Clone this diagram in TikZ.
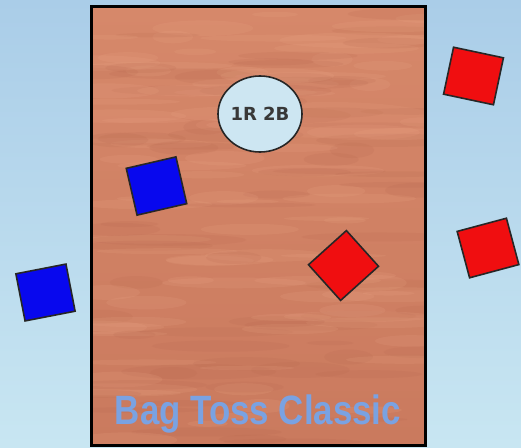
\documentclass[tikz,border=0pt]{standalone}
\usepackage{fontspec}
\setmainfont{Liberation Sans}
\newfontfamily\dejavu{DejaVu Sans}
\newfontfamily\titlefam{Liberation Sans Bold}
\usetikzlibrary{shadings,shapes.geometric}
\definecolor{bgtop}{RGB}{170,205,232}
\definecolor{bgbot}{RGB}{200,230,242}
\definecolor{wood}{RGB}{202,122,94}
\definecolor{woodlight}{RGB}{214,136,106}
\definecolor{wooddark}{RGB}{180,100,76}
\definecolor{woodhi}{RGB}{236,168,136}
\definecolor{bagred}{RGB}{240,14,16}
\definecolor{bagblue}{RGB}{8,8,238}
\definecolor{holefill}{RGB}{205,230,242}
\definecolor{titleblue}{RGB}{122,162,226}
\tikzset{
  bag/.style={draw=black!85, line width=1.6pt, minimum width=51pt, minimum height=48pt, inner sep=0pt},
  redbag/.style={bag, fill=bagred},
  bluebag/.style={bag, fill=bagblue},
  titlefont/.style={font=\titlefam\fontsize{41}{41}\selectfont, xscale=0.85},
}
\begin{document}
\begin{tikzpicture}[x=1pt,y=-1pt]
\useasboundingbox (0,0) rectangle (521,447);
% background
\shade[top color=bgtop, bottom color=bgbot] (0,0) rectangle (521,447);
% board
\shade[top color=woodlight, bottom color=wood] (91,6) rectangle (425,445);
\begin{scope}
\clip (91,6) rectangle (425,445);
\pgfmathsetseed{7}
\foreach \i in {1,...,160}{
  \pgfmathsetmacro\px{91+334*rnd}
  \pgfmathsetmacro\py{6+439*rnd}
  \pgfmathsetmacro\pl{20+60*rnd}
  \pgfmathsetmacro\pw{2+6*rnd}
  \pgfmathsetmacro\pc{rnd}
  \ifdim\pc pt<0.5pt
    \fill[woodhi, opacity=0.16] (\px,\py) ellipse (\pl pt and \pw pt);
  \else
    \fill[wooddark, opacity=0.14] (\px,\py) ellipse (\pl pt and \pw pt);
  \fi
}
\fill[woodhi, opacity=0.12] (330,120) ellipse (110 and 18);
\end{scope}
\node[draw=black, line width=3pt, minimum width=334pt, minimum height=439pt, inner sep=0pt] (board) at (258,225.5) {};
% hole
\node[ellipse, draw=black!85, fill=holefill, line width=1.6pt, minimum width=84pt, minimum height=76pt, inner sep=0pt, font=\dejavu\bfseries\fontsize{18}{18}\selectfont, text=black!78] (hole) at (260,114) {1R 2B};
% bags
\node[bluebag, rotate=11] (b1) at (45.5,292.5) {};
\node[bluebag, rotate=13] (b2) at (156.5,186) {};
\node[redbag, rotate=42] (r1) at (343.5,265.5) {};
\node[redbag, rotate=-12] (r2) at (473.5,76) {};
\node[redbag, rotate=15] (r3) at (488,248) {};
% title
\node[titlefont, text=titleblue] (title) at (258,414) {Bag Toss Classic};
\end{tikzpicture}
\end{document}
